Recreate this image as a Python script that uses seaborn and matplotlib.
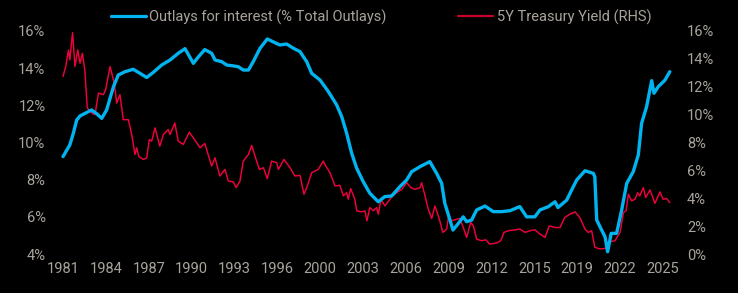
import numpy as np
import pandas as pd
import matplotlib
matplotlib.use("Agg")
import matplotlib.pyplot as plt
import seaborn as sns

# ---------------- data ----------------
blue_years = [1981.0, 1981.5, 1981.76, 1982.0, 1982.25, 1982.7, 1983.1, 1983.5, 1983.84,
              1984.2, 1984.45, 1984.7, 1985.05, 1985.55, 1986.15, 1986.65, 1987.14, 1987.6,
              1988.24, 1988.85, 1989.45, 1989.95, 1990.56, 1990.92, 1991.4, 1991.9, 1992.15,
              1992.64, 1993.0, 1993.5, 1993.85, 1994.22, 1994.6, 1994.95, 1995.45, 1995.98,
              1996.55, 1996.9, 1997.4, 1997.9, 1998.38, 1998.87, 1999.24, 1999.85, 2000.46,
              2001.07, 2001.44, 2001.8, 2002.17, 2002.54, 2003.02, 2003.5, 2004.12, 2004.6,
              2005.1, 2005.7, 2006.2, 2006.57, 2007.18, 2007.9, 2008.4, 2008.77, 2009.0,
              2009.38, 2009.6, 2010.0, 2010.35, 2010.6, 2010.97, 2011.33, 2011.95, 2012.55,
              2013.17, 2013.78, 2014.5, 2015.0, 2015.6, 2015.98, 2016.6, 2017.08, 2017.3,
              2017.94, 2018.3, 2018.67, 2019.28, 2019.89, 2020.0, 2020.14, 2020.5, 2020.75,
              2020.94, 2021.2, 2021.6, 2021.97, 2022.34, 2022.82, 2023.19, 2023.43, 2023.8,
              2024.17, 2024.34, 2024.65, 2025.15, 2025.5]
blue_vals = [9.24, 9.87, 10.5, 11.2, 11.43, 11.6, 11.75, 11.53, 11.3,
             11.75, 12.38, 13.0, 13.63, 13.81, 13.94, 13.72, 13.5, 13.76,
             14.17, 14.44, 14.8, 15.05, 14.26, 14.6, 15.0, 14.8, 14.44,
             14.35, 14.17, 14.12, 14.08, 13.9, 13.9, 14.35, 15.07, 15.57,
             15.37, 15.25, 15.3, 15.07, 14.89, 14.35, 13.72, 13.36, 12.74,
             12.02, 11.39, 10.5, 9.42, 8.61, 7.89, 7.27, 6.81, 7.09,
             7.12, 7.62, 7.98, 8.43, 8.7, 8.97, 8.34, 7.8, 6.73,
             5.83, 5.29, 5.65, 6.0, 5.74, 5.83, 6.37, 6.58, 6.28,
             6.28, 6.33, 6.55, 6.0, 6.0, 6.37, 6.55, 6.81, 6.5,
             6.9, 7.44, 7.98, 8.48, 8.34, 8.16, 5.83, 5.29, 4.93,
             4.12, 5.11, 5.11, 6.37, 7.8, 8.43, 9.33, 11.03, 11.93,
             13.33, 12.65, 13.0, 13.36, 13.81]

red_years = [1981.0, 1981.2, 1981.4, 1981.5, 1981.7, 1981.88, 1982.08, 1982.25, 1982.42,
             1982.6, 1982.78, 1983.1, 1983.35, 1983.6, 1983.96, 1984.13, 1984.45, 1984.76,
             1984.94, 1985.18, 1985.42, 1985.79, 1986.04, 1986.28, 1986.4, 1986.57, 1986.9,
             1987.14, 1987.33, 1987.5, 1987.75, 1988.1, 1988.36, 1988.72, 1988.85, 1989.2,
             1989.45, 1989.82, 1990.26, 1990.56, 1991.05, 1991.4, 1991.9, 1992.15, 1992.5,
             1992.88, 1993.12, 1993.5, 1993.7, 1993.98, 1994.22, 1994.6, 1994.84, 1995.08,
             1995.4, 1995.7, 1995.98, 1996.3, 1996.67, 1996.8, 1997.2, 1997.65, 1998.0,
             1998.38, 1998.67, 1998.85, 1999.24, 1999.72, 2000.09, 2000.27, 2000.58, 2000.95,
             2001.3, 2001.56, 2001.8, 2001.92, 2002.1, 2002.4, 2002.54, 2002.9, 2003.14,
             2003.29, 2003.5, 2003.75, 2004.0, 2004.12, 2004.32, 2004.6, 2004.98, 2005.15,
             2005.47, 2005.84, 2006.2, 2006.52, 2006.81, 2007.18, 2007.3, 2007.55, 2007.79,
             2008.04, 2008.28, 2008.6, 2008.85, 2009.14, 2009.26, 2009.5, 2009.87, 2010.1,
             2010.36, 2010.6, 2010.9, 2011.1, 2011.33, 2011.7, 2012.0, 2012.3, 2012.8,
             2013.1, 2013.34, 2013.66, 2014.02, 2014.5, 2014.88, 2015.25, 2015.6, 2015.98,
             2016.35, 2016.66, 2017.08, 2017.45, 2017.8, 2018.18, 2018.55, 2018.9, 2019.28,
             2019.52, 2019.77, 2020.0, 2020.38, 2020.75, 2021.1, 2021.48, 2021.85, 2022.1,
             2022.29, 2022.46, 2022.7, 2022.95, 2023.15, 2023.3, 2023.56, 2023.73, 2024.05,
             2024.41, 2024.78, 2025.0, 2025.27, 2025.5]
red_vals = [12.74, 13.45, 14.64, 13.93, 15.88, 13.45, 14.64, 13.69, 14.4,
            13.2, 10.48, 10.12, 10.0, 11.55, 11.43, 11.79, 13.45, 12.26,
            10.83, 11.43, 9.64, 9.64, 8.57, 7.14, 7.62, 6.98, 6.79,
            6.9, 8.21, 8.1, 9.05, 7.74, 8.57, 8.93, 8.57, 9.4,
            8.1, 7.86, 8.74, 8.33, 7.62, 7.93, 6.31, 6.9, 5.6,
            6.07, 5.24, 5.17, 4.76, 5.24, 6.67, 7.14, 7.79, 7.02,
            6.07, 6.19, 5.4, 6.67, 6.55, 6.07, 6.79, 6.19, 5.6,
            5.64, 4.29, 4.7, 5.83, 6.07, 6.67, 6.31, 5.83, 4.88,
            4.93, 4.17, 4.4, 3.93, 4.69, 3.93, 3.1, 3.02, 3.1,
            2.38, 3.33, 3.1, 3.33, 2.86, 3.93, 3.45, 3.93, 4.17,
            4.4, 4.64, 5.12, 4.76, 4.64, 4.76, 5.12, 4.17, 3.21,
            2.55, 3.45, 2.5, 1.55, 1.79, 2.62, 2.38, 2.5, 2.55,
            1.9, 1.19, 2.26, 2.02, 1.07, 0.95, 1.02, 0.71, 0.79,
            0.95, 1.55, 1.67, 1.71, 1.79, 1.55, 1.67, 1.74, 1.43,
            1.19, 2.02, 1.9, 1.9, 2.62, 2.86, 3.02, 2.62, 1.79,
            1.55, 1.67, 0.48, 0.36, 0.4, 0.88, 0.95, 1.55, 2.98,
            3.1, 4.29, 3.81, 3.93, 4.4, 4.17, 4.76, 4.05, 4.6,
            3.64, 4.45, 3.93, 3.98, 3.69]

x_tick_labels = ["1981", "1984", "1987", "1990", "1993", "1996", "2000", "2003",
                 "2006", "2009", "2012", "2015", "2019", "2022", "2025"]
left_ticks = [4, 6, 8, 10, 12, 14, 16]
right_ticks = [0, 2, 4, 6, 8, 10, 12, 14, 16]

blue_label = "Outlays for interest (% Total Outlays)"
red_label = "5Y Treasury Yield (RHS)"

df_blue = pd.DataFrame({"year": blue_years, "value": blue_vals})
df_red = pd.DataFrame({"year": red_years, "value": red_vals})

# ---------------- style ----------------
BG = "black"
BLUE = "#00B4F0"
RED = "#F0003C"
TXT = "#A8A39B"

sns.set_theme(style="dark", rc={"axes.facecolor": BG, "figure.facecolor": BG,
                                "axes.grid": False})
plt.rcParams["font.family"] = ["Roboto", "DejaVu Sans"]

W, H = 738, 293
fig = plt.figure(figsize=(W / 100, H / 100), dpi=100, facecolor=BG)
L, R, T, B = 58, 676, 31, 254
ax = fig.add_axes([L / W, 1 - B / H, (R - L) / W, (B - T) / H])
ax2 = ax.twinx()

sns.lineplot(data=df_blue, x="year", y="value", ax=ax, color=BLUE, lw=2.4,
             label=blue_label, legend=False)
sns.lineplot(data=df_red, x="year", y="value", ax=ax2, color=RED, lw=1.05,
             label=red_label, legend=False)

ax.set_zorder(ax2.get_zorder() + 1)
ax.patch.set_visible(False)
ax2.set_facecolor(BG)

x0 = 1981 - (63 - L) / 13.636
x1 = 1981 + (R - 63) / 13.636
ax.set_xlim(x0, x1)
ax.set_ylim(4, 16)
ax2.set_ylim(0, 16)

tick_pos = np.linspace(1981, 2025, len(x_tick_labels))
ax.set_xticks(tick_pos)
ax.set_xticklabels(x_tick_labels)
ax.set_yticks(left_ticks)
ax.set_yticklabels([f"{v}%" for v in left_ticks])
ax2.set_yticks(right_ticks)
ax2.set_yticklabels([f"{v}%" for v in right_ticks])

for a in (ax, ax2):
    a.set_xlabel("")
    a.set_ylabel("")
    for s in a.spines.values():
        s.set_visible(False)
    a.tick_params(length=0, colors=TXT, labelsize=10.5)
ax.tick_params(axis="y", pad=9)
ax.tick_params(axis="x", pad=6)
ax2.tick_params(axis="y", pad=8)
for lab in ax.get_xticklabels() + ax.get_yticklabels() + ax2.get_yticklabels():
    lab.set_color(TXT)

handles = [ax.get_lines()[0], ax2.get_lines()[0]]
leg = fig.legend(handles, [blue_label, red_label], loc="center",
                 bbox_to_anchor=(381 / W, 1 - 17 / H), ncol=2, frameon=False,
                 fontsize=10.5, handlelength=2.4, handletextpad=0.25,
                 columnspacing=4.9, borderpad=0, labelcolor=TXT)
leg_lines = leg.get_lines()
leg_lines[0].set_linewidth(2.3)
leg_lines[1].set_linewidth(1.6)
leg_lines[1].set_color("#C8002E")

fig.savefig("out.png", dpi=100, facecolor=BG)
